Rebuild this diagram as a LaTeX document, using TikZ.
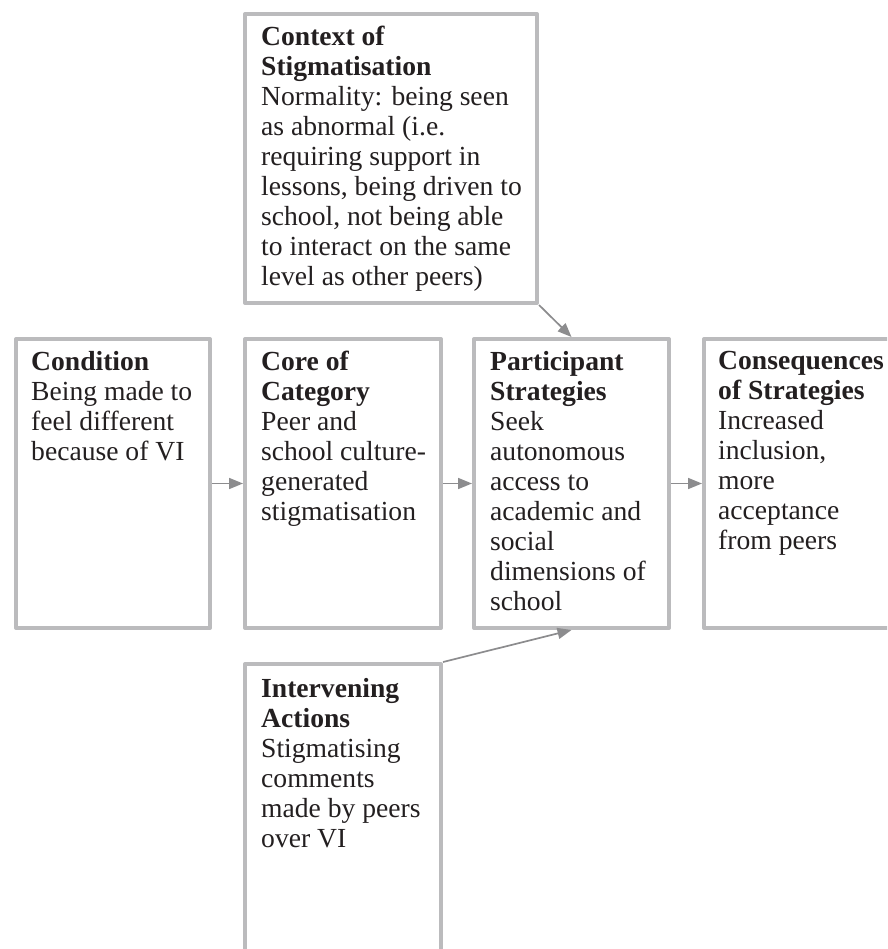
\documentclass[tikz,border=0pt]{standalone}
\usepackage{fontspec}
\setmainfont{Liberation Serif}
\usetikzlibrary{arrows.meta}
\definecolor{boxgray}{HTML}{BBBBBD}
\definecolor{arrgray}{HTML}{8C8C8E}
\definecolor{txtcol}{HTML}{231F20}
\begin{document}
\begin{tikzpicture}[x=1pt,y=-1pt,
  box/.style={draw=boxgray,line width=4pt,line join=round,rectangle,inner sep=0pt,anchor=north west},
  txt/.style={anchor=north west,inner sep=0pt,align=left,text=txtcol,font=\fontsize{27.6}{30}\selectfont},
  conn/.style={draw=arrgray,line width=1.7pt,-{Triangle[length=14pt,width=11pt]}}]
\useasboundingbox (0,0) rectangle (887,949);
\clip (0,0) rectangle (887,949);
% boxes
\node[box,minimum width=194pt,minimum height=289pt] (cond) at (14,337) {};
\node[box,minimum width=196pt,minimum height=289pt] (core) at (243,337) {};
\node[box,minimum width=195pt,minimum height=289pt] (part) at (472,337) {};
\node[box,minimum width=196pt,minimum height=289pt] (cons) at (702,337) {};
\node[box,minimum width=292pt,minimum height=289pt] (ctx) at (243,12) {};
\node[box,minimum width=196pt,minimum height=300pt] (intv) at (243,662) {};
% texts (top = first baseline minus ascent)
\node[txt] (condt) at (31,351) {\textbf{Condition}\\Being made to\\feel different\\because of VI};
\node[txt] (coret) at (261,351) {\textbf{Core of}\\\textbf{Category}\\Peer and\\school culture-\\generated\\stigmatisation};
\node[txt] (partt) at (490,351) {\textbf{Participant}\\\textbf{Strategies}\\Seek\\autonomous\\access to\\academic and\\social\\dimensions of\\school};
\node[txt] (const) at (718,351) {\textbf{Consequences}\\\textbf{of Strategies}\\Increased\\inclusion,\\more\\acceptance\\from peers};
\node[txt] (ctxt) at (261,26) {\textbf{Context of}\\\textbf{Stigmatisation}\\Normality: being seen\\as abnormal (i.e.\\requiring support in\\lessons, being driven to\\school, not being able\\to interact on the same\\level as other peers)};
\node[txt] (intvt) at (261,678) {\textbf{Intervening}\\\textbf{Actions}\\Stigmatising\\comments\\made by peers\\over VI};
% connectors
\draw[conn] (cond.east) -- (core.west);
\draw[conn] (core.east) -- (part.west);
\draw[conn] (part.east) -- (cons.west);
\draw[conn] (ctx.south east) -- (part.north);
\draw[conn] (intv.north east) -- (part.south);
\end{tikzpicture}
\end{document}
